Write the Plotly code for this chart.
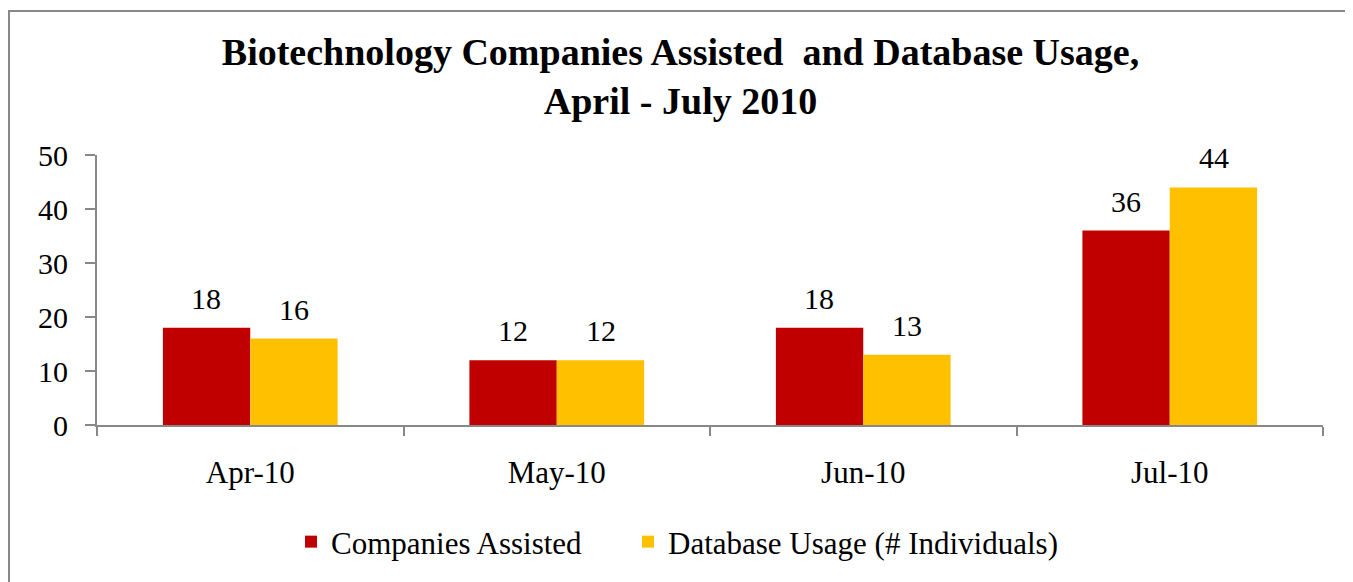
import plotly.graph_objects as go

categories = ["Apr-10", "May-10", "Jun-10", "Jul-10"]
companies = [18, 12, 18, 36]
database = [16, 12, 13, 44]
series_names = ["Companies Assisted", "Database Usage (# Individuals)"]
colors = ["#C00000", "#FFC000"]
y_ticks = [0, 10, 20, 30, 40, 50]

FONT = "Liberation Serif"

# page body adds an 8px offset; figure sized to fit window
W, H = 1345, 574
L, R, T, B = 89, 30, 147, 157
PW, PH = W - L - R, H - T - B

fig = go.Figure()
for i, (name, vals, col) in enumerate(zip(series_names, [companies, database], colors)):
    fig.add_trace(go.Bar(name=name, x=categories, y=vals, marker_color=col,
                         marker_line_width=0,
                         legendwidth=292 if i == 0 else None))

for vals, shift in [(companies, -44), (database, 44)]:
    for c, v in zip(categories, vals):
        fig.add_annotation(x=c, y=v, text=str(v), showarrow=False, xshift=shift,
                           yanchor="bottom", yshift=11,
                           font=dict(family=FONT, size=30, color="black"))

fig.update_layout(
    width=W, height=H,
    margin=dict(l=L, r=R, t=T, b=B, autoexpand=False),
    paper_bgcolor="white", plot_bgcolor="white",
    barmode="group", bargap=0.43, bargroupgap=0,
    font=dict(family=FONT, size=30, color="black"),
    title=dict(text="<b>Biotechnology Companies Assisted  and Database Usage,<br>April - July 2010</b>",
               x=0.5, xanchor="center", xref="container", yref="container",
               y=1 - 57 / H, yanchor="top",
               font=dict(family=FONT, size=38, color="black")),
    legend=dict(orientation="h", x=(283 - L) / PW, xanchor="left",
                y=(PH - (534 - T)) / PH, yanchor="middle",
                font=dict(family=FONT, size=31, color="black"),
                traceorder="normal"),
    showlegend=True,
)
fig.update_xaxes(showline=True, linecolor="#888888", linewidth=2, ticks="outside",
                 tickson="boundaries", ticklen=9, tickcolor="#888888", tickwidth=2,
                 ticklabelstandoff=19, showgrid=False,
                 tickfont=dict(family=FONT, size=31))
fig.update_yaxes(range=[0, 50], tickvals=y_ticks, showline=True, linecolor="#888888",
                 linewidth=2, ticks="outside", ticklen=10, tickcolor="#888888", tickwidth=2,
                 ticklabelstandoff=11, showgrid=False, zeroline=False,
                 tickfont=dict(family=FONT, size=30))

fig.add_shape(type="rect", xref="paper", yref="paper",
              x0=(1 - L) / PW, x1=(1342 - L) / PW,
              y0=(PH - (600 - T)) / PH, y1=(PH - (3 - T)) / PH,
              line=dict(color="#888888", width=2), fillcolor="rgba(0,0,0,0)", layer="below")

fig.write_html("out.html")
